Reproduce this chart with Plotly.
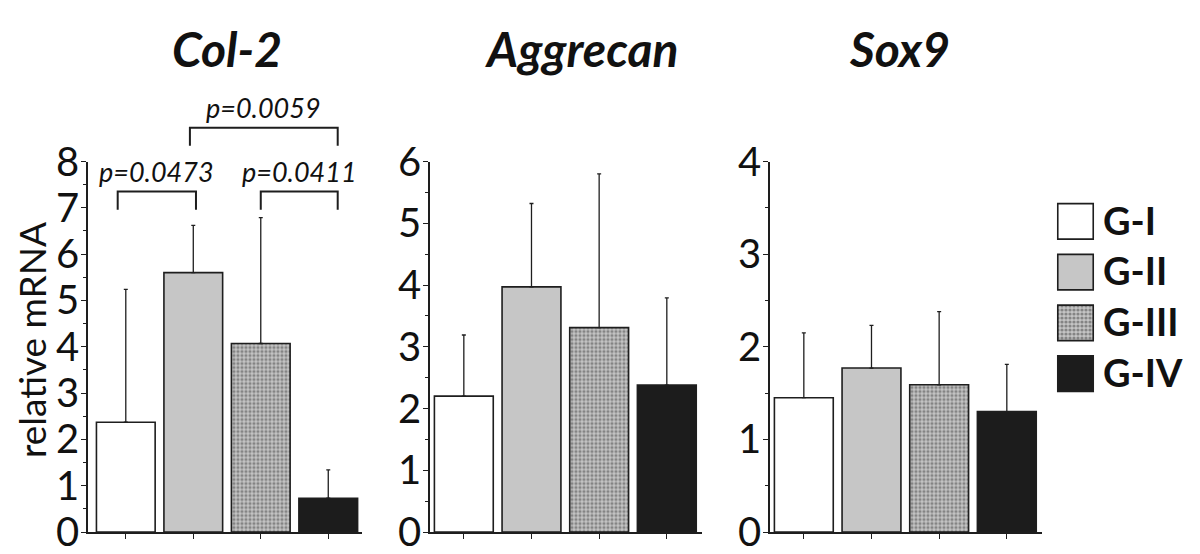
import plotly.graph_objects as go

# ---------------- data ----------------
GROUPS = ["G-I", "G-II", "G-III", "G-IV"]
GENES = ["Col-2", "Aggrecan", "Sox9"]

COL2_MEAN = [2.37, 5.60, 4.07, 0.73]
COL2_SD = [2.87, 1.02, 2.72, 0.61]
AGG_MEAN = [2.20, 3.97, 3.31, 2.38]
AGG_SD = [0.99, 1.35, 2.49, 1.41]
SOX9_MEAN = [1.45, 1.77, 1.59, 1.30]
SOX9_SD = [0.70, 0.46, 0.79, 0.51]

Y_MAX = [8, 6, 4]
Y_LABEL = "relative mRNA"

# significance brackets (Col-2 panel, data coordinates)
P_LABELS = ["p=0.0473", "p=0.0411", "p=0.0059"]
P_X0 = [-0.12, 2.0, 0.95]
P_X1 = [1.04, 3.14, 3.14]
P_Y = [7.35, 7.35, 8.73]
P_DROP = 0.39

# ---------------- style ----------------
FONT = "Lato, 'Open Sans', sans-serif"
BAR_COLORS = ["#ffffff", "#c6c6c6", "#c4c4c4", "#1c1c1c"]
PATTERN = ["", "", ".", ""]
LINE = "#1e1e1e"

W, H = 1200, 554
OFF = 8  # page offset of the plot div
X_PIX = [(88, 362), (430, 702), (770, 1042)]
X_RANGES = [(-0.56, 3.5), (-0.5, 3.52), (-0.5, 3.52)]
Y_PIX = (532, 161.5)
TITLE_X = [227, 582, 899]

means = [COL2_MEAN, AGG_MEAN, SOX9_MEAN]
sds = [COL2_SD, AGG_SD, SOX9_SD]


def px_x(p):
    return (p - OFF) / W


def px_y(p):
    return 1 - (p - OFF) / H


fig = go.Figure()

marker_common = dict(
    color=BAR_COLORS,
    line=dict(color=LINE, width=1.6),
    pattern=dict(shape=PATTERN, fgcolor="#1f1f1f", size=4, solidity=0.5,
                 fillmode="overlay"),
)

for i in range(3):
    sfx = "" if i == 0 else str(i + 1)
    fig.add_trace(go.Bar(
        x=GROUPS, y=means[i], width=0.87,
        marker=marker_common,
        error_y=dict(type="data", array=sds[i], arrayminus=[0] * len(GROUPS),
                     symmetric=False, color=LINE, thickness=1.3, width=2),
        xaxis="x" + sfx, yaxis="y" + sfx, showlegend=False,
    ))
    y_dom = [px_y(Y_PIX[0]), px_y(Y_PIX[1])]
    fig.layout["xaxis" + sfx] = dict(
        domain=[px_x(X_PIX[i][0]), px_x(X_PIX[i][1])],
        anchor="y" + sfx, type="category", range=list(X_RANGES[i]),
        showline=True, linecolor=LINE, linewidth=1.5,
        ticks="outside", ticklen=5, tickcolor=LINE, tickwidth=1.2,
        showticklabels=False, showgrid=False, zeroline=False, fixedrange=True,
        automargin=False,
    )
    fig.layout["yaxis" + sfx] = dict(
        domain=y_dom, anchor="x" + sfx, range=[0, Y_MAX[i]],
        tickmode="linear", tick0=0, dtick=1,
        showline=True, linecolor=LINE, linewidth=1.5,
        ticks="outside", ticklen=5, tickcolor=LINE, tickwidth=1.2,
        minor=dict(dtick=0.5, ticks="outside", ticklen=3, tickcolor=LINE, tickwidth=1),
        tickfont=dict(family=FONT, size=40, color="#111"),
        ticklabelstandoff=-6,
        showgrid=False, zeroline=False, fixedrange=True, automargin=False,
    )
    fig.add_annotation(
        x=px_x(TITLE_X[i]), y=px_y(49), xref="paper", yref="paper",
        text="<b><i>%s</i></b>" % GENES[i], showarrow=False,
        font=dict(family=FONT, size=48, color="#111"),
        xanchor="center", yanchor="middle",
    )

# legend panel drawn as a small horizontal bar subplot
fig.add_trace(go.Bar(
    y=GROUPS, x=[1] * len(GROUPS), orientation="h", width=0.7,
    marker=marker_common, xaxis="x4", yaxis="y4", showlegend=False,
))
fig.layout["xaxis4"] = dict(domain=[px_x(1056), px_x(1095)], anchor="y4",
                            range=[-0.05, 1.05], visible=False, automargin=False)
fig.layout["yaxis4"] = dict(domain=[px_y(399), px_y(196)], anchor="x4",
                            type="category", range=[3.5, -0.5], side="right",
                            showline=False, ticks="", showgrid=False,
                            ticklabelstandoff=7, automargin=False,
                            tickfont=dict(family=FONT, size=38, color="#111", weight="bold"))

# y label
fig.add_annotation(
    x=px_x(31), y=px_y(340), xref="paper", yref="paper", text=Y_LABEL,
    textangle=-90, showarrow=False, font=dict(family=FONT, size=37, color="#111"),
    xanchor="center", yanchor="middle", borderpad=0,
)

# significance brackets on the Col-2 panel
xr = X_RANGES[0]


def dx(v):
    return (v - xr[0]) / (xr[1] - xr[0])


def dy(v):
    return v / Y_MAX[0]


for lab, x0, x1, yt in zip(P_LABELS, P_X0, P_X1, P_Y):
    path = "M %f,%f L %f,%f L %f,%f L %f,%f" % (
        dx(x0), dy(yt - P_DROP), dx(x0), dy(yt), dx(x1), dy(yt), dx(x1), dy(yt - P_DROP))
    fig.add_shape(type="path", path=path, xref="x domain", yref="y domain",
                  line=dict(color=LINE, width=2))
    fig.add_annotation(
        x=dx((x0 + x1) / 2), y=dy(yt), xref="x domain", yref="y domain",
        text="<i>%s</i>" % lab, showarrow=False, xanchor="center", yanchor="bottom",
        yshift=2, font=dict(family=FONT, size=27, color="#111"),
    )

fig.update_layout(
    width=W, height=H, margin=dict(l=0, r=0, t=0, b=0, autoexpand=False),
    paper_bgcolor="white", plot_bgcolor="white", bargap=0.13,
    font=dict(family=FONT, color="#111"),
)

fig.write_html("out.html")
